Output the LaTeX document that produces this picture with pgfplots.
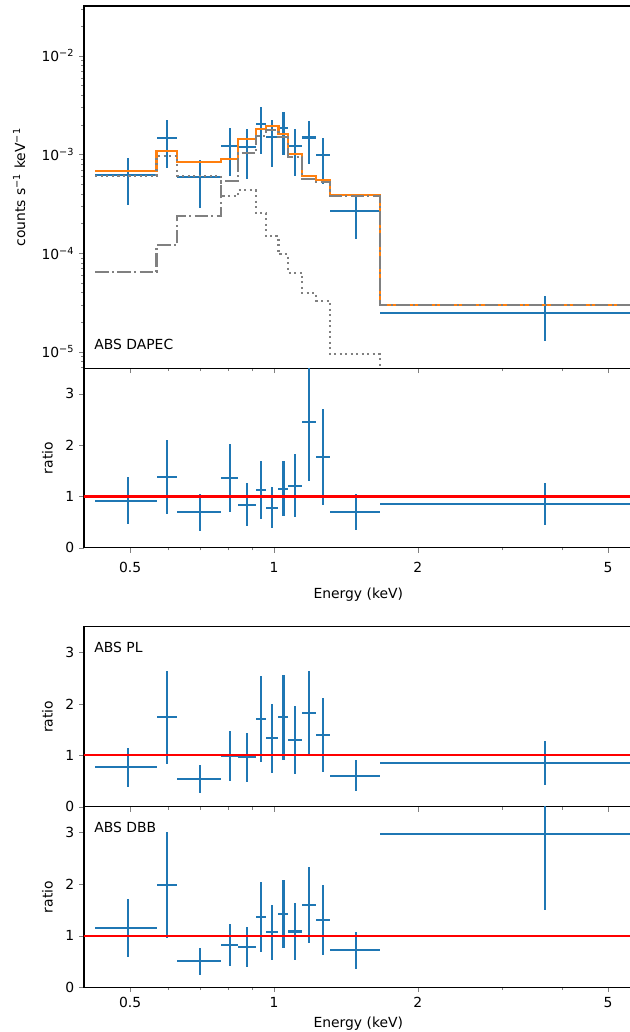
\documentclass[border=0pt]{standalone}
\usepackage{fontspec}
\setmainfont{DejaVu Sans}
\usepackage{pgfplots}
\usepackage{pgfplotstable}
\pgfplotsset{compat=1.18}
\definecolor{c0}{HTML}{1F77B4}
\definecolor{c1}{HTML}{FF7F0E}
\definecolor{redline}{HTML}{FF0000}

\pgfplotstableread{
x ex y ey
0.4955 0.0725 6.14e-4 3.06e-4
0.598 0.030 1.48e-3 7.5e-4
0.701 0.073 5.90e-4 3.0e-4
0.8075 0.0335 1.23e-3 6.2e-4
0.879 0.038 1.18e-3 6.2e-4
0.9395 0.0225 2.04e-3 1.02e-3
0.992 0.030 1.50e-3 7.6e-4
1.047 0.025 1.85e-3 8.6e-4
1.109 0.037 1.22e-3 6.1e-4
1.186 0.040 1.49e-3 6.9e-4
1.268 0.042 9.9e-4 4.9e-4
1.4875 0.1775 2.68e-4 1.3e-4
3.6925 2.0275 2.49e-5 1.2e-5
}\datatop

\pgfplotstableread{
e tot apec other
0.423 6.74e-4 6.09e-4 6.47e-5
0.568 1.077e-3 9.72e-4 1.20e-4
0.628 8.46e-4 6.09e-4 2.36e-4
0.774 9.0e-4 3.77e-4 5.43e-4
0.841 1.435e-3 4.33e-4 1.035e-3
0.917 1.81e-3 2.56e-4 1.55e-3
0.962 1.93e-3 1.48e-4 1.78e-3
1.022 1.61e-3 9.7e-5 1.51e-3
1.072 1.01e-3 6.33e-5 9.5e-4
1.146 6.09e-4 3.90e-5 5.7e-4
1.226 5.56e-4 3.26e-5 5.23e-4
1.310 3.85e-4 9.4e-6 3.76e-4
1.665 2.95e-5 1e-7 2.95e-5
5.72 2.95e-5 1e-7 2.95e-5
}\model

\pgfplotstableread{
x ex y ey
0.4955 0.0725 0.918 0.456
0.598 0.030 1.381 0.721
0.701 0.073 0.691 0.358
0.8075 0.0335 1.361 0.67
0.879 0.038 0.834 0.42
0.9395 0.0225 1.127 0.56
0.992 0.030 0.775 0.40
1.047 0.025 1.152 0.537
1.109 0.037 1.211 0.618
1.186 0.040 2.449 1.15
1.268 0.042 1.771 0.93
1.4875 0.1775 0.691 0.35
3.6925 2.0275 0.85 0.41
}\ratioA

\pgfplotstableread{
x ex y ey
0.4955 0.0725 0.766 0.374
0.598 0.030 1.739 0.905
0.701 0.073 0.539 0.276
0.8075 0.0335 0.986 0.484
0.879 0.038 0.961 0.48
0.9395 0.0225 1.706 0.844
0.992 0.030 1.331 0.671
1.047 0.025 1.739 0.82
1.109 0.037 1.298 0.655
1.186 0.040 1.817 0.827
1.268 0.042 1.389 0.72
1.4875 0.1775 0.603 0.30
3.6925 2.0275 0.85 0.43
}\ratioB

\pgfplotstableread{
x ex y ey
0.4955 0.0725 1.149 0.565
0.598 0.030 1.987 1.03
0.701 0.073 0.503 0.258
0.8075 0.0335 0.826 0.403
0.879 0.038 0.774 0.387
0.9395 0.0225 1.362 0.673
0.992 0.030 1.064 0.539
1.047 0.025 1.42 0.665
1.109 0.037 1.083 0.545
1.186 0.040 1.594 0.73
1.268 0.042 1.31 0.677
1.4875 0.1775 0.716 0.36
3.6925 2.0275 2.97 1.48
}\ratioC

\begin{document}
\begin{tikzpicture}[font=\fontsize{10}{12}\selectfont]
% top spectrum panel
\begin{axis}[at={(0pt,0pt)}, anchor=north west,
  scale only axis, width=395pt, height=260.86pt,
  xmode=log, ymode=log, xmin=0.4005, xmax=5.626, ymin=6.79e-6, ymax=3.21e-2,
  tick pos=left, tick align=outside,
  major tick length=3.5pt, minor tick length=2pt,
  axis line style={line width=0.8pt},
  xtick={0.5,1,2,5}, minor xtick={0.6,0.7,0.8,0.9,3,4},
  xticklabels={},
  ytick={1e-5,1e-4,1e-3,1e-2},
  yticklabels={10\textsuperscript{−5},10\textsuperscript{−4},10\textsuperscript{−3},10\textsuperscript{−2}},
  minor ytick={7e-6,8e-6,9e-6,2e-5,3e-5,4e-5,5e-5,6e-5,7e-5,8e-5,9e-5,2e-4,3e-4,4e-4,5e-4,6e-4,7e-4,8e-4,9e-4,2e-3,3e-3,4e-3,5e-3,6e-3,7e-3,8e-3,9e-3,2e-2,3e-2},
  ylabel={counts s\textsuperscript{−1} keV\textsuperscript{−1}},
  ylabel style={at={(axis description cs:-0.118,0.5)}, anchor=center},
]
\addplot[draw=none, mark=none,
    error bars/.cd, x dir=both, x explicit, y dir=both, y explicit,
    error mark=none, error bar style={draw=c0, line width=1.5pt, solid}]
  table[x=x, y=y, x error=ex, y error=ey] {\datatop};
\addplot[c1, line width=1.5pt, const plot] table[x=e, y=tot] {\model};
\addplot[gray, line width=1.5pt, const plot, dash pattern=on 1.5pt off 2.475pt] table[x=e, y=apec] {\model};
\addplot[gray, line width=1.5pt, const plot, dash pattern=on 9.6pt off 2.4pt on 1.5pt off 2.4pt] table[x=e, y=other] {\model};
\node[anchor=base west] at (axis description cs:0.01,0.053) {ABS DAPEC};
\end{axis}
% ratio for DAPEC
\begin{axis}[at={(0pt,-260.86pt)}, anchor=north west,
  scale only axis, width=395pt, height=129.17pt,
  xmode=log, xmin=0.4005, xmax=5.626, ymin=0, ymax=3.5,
  tick pos=left, tick align=outside,
  major tick length=3.5pt, minor tick length=2pt,
  axis line style={line width=0.8pt},
  xtick={0.5,1,2,5}, minor xtick={0.6,0.7,0.8,0.9,3,4},
  xticklabels={0.5,1,2,5},
  xticklabel style={yshift=-3.6pt},
  ytick={0,1,2,3}, yticklabels={0,1,2,3},
  ylabel={ratio},
  ylabel style={at={(axis description cs:-0.0666,0.5)}, anchor=center},
  xlabel={Energy (keV)},
  xlabel style={yshift=-3.6pt}]
\addplot[draw=none, mark=none,
    error bars/.cd, x dir=both, x explicit, y dir=both, y explicit,
    error mark=none, error bar style={draw=c0, line width=1.5pt, solid}]
  table[x=x, y=y, x error=ex, y error=ey] {\ratioA};
\addplot[draw=redline, line width=2pt, mark=none] coordinates {(0.35,1) (6,1)};
\end{axis}
% ratio for PL
\begin{axis}[at={(0pt,-446.98pt)}, anchor=north west,
  scale only axis, width=395pt, height=129.6pt,
  xmode=log, xmin=0.4005, xmax=5.626, ymin=0, ymax=3.5,
  tick pos=left, tick align=outside,
  major tick length=3.5pt, minor tick length=2pt,
  axis line style={line width=0.8pt},
  xtick={0.5,1,2,5}, minor xtick={0.6,0.7,0.8,0.9,3,4},
  xticklabels={},
  ytick={0,1,2,3}, yticklabels={0,1,2,3},
  ylabel={ratio},
  ylabel style={at={(axis description cs:-0.0666,0.5)}, anchor=center}]
\addplot[draw=none, mark=none,
    error bars/.cd, x dir=both, x explicit, y dir=both, y explicit,
    error mark=none, error bar style={draw=c0, line width=1.5pt, solid}]
  table[x=x, y=y, x error=ex, y error=ey] {\ratioB};
\addplot[draw=redline, line width=1.3pt, mark=none] coordinates {(0.35,1) (6,1)};
\node[anchor=base west] at (axis description cs:0.01,0.86) {ABS PL};
\end{axis}
% ratio for DBB
\begin{axis}[at={(0pt,-576.58pt)}, anchor=north west,
  scale only axis, width=395pt, height=129.96pt,
  xmode=log, xmin=0.4005, xmax=5.626, ymin=0, ymax=3.5,
  tick pos=left, tick align=outside,
  major tick length=3.5pt, minor tick length=2pt,
  axis line style={line width=0.8pt},
  xtick={0.5,1,2,5}, minor xtick={0.6,0.7,0.8,0.9,3,4},
  xticklabels={0.5,1,2,5},
  ytick={0,1,2,3}, yticklabels={0,1,2,3},
  ylabel={ratio},
  ylabel style={at={(axis description cs:-0.0666,0.5)}, anchor=center},
  xlabel={Energy (keV)}]
\addplot[draw=none, mark=none,
    error bars/.cd, x dir=both, x explicit, y dir=both, y explicit,
    error mark=none, error bar style={draw=c0, line width=1.5pt, solid}]
  table[x=x, y=y, x error=ex, y error=ey] {\ratioC};
\addplot[draw=redline, line width=1.3pt, mark=none] coordinates {(0.35,1) (6,1)};
\node[anchor=base west] at (axis description cs:0.01,0.856) {ABS DBB};
\end{axis}
\pgfresetboundingbox
\useasboundingbox (-60.48pt,4.32pt) rectangle (392.4pt,-738.72pt);
\end{tikzpicture}
\end{document}
